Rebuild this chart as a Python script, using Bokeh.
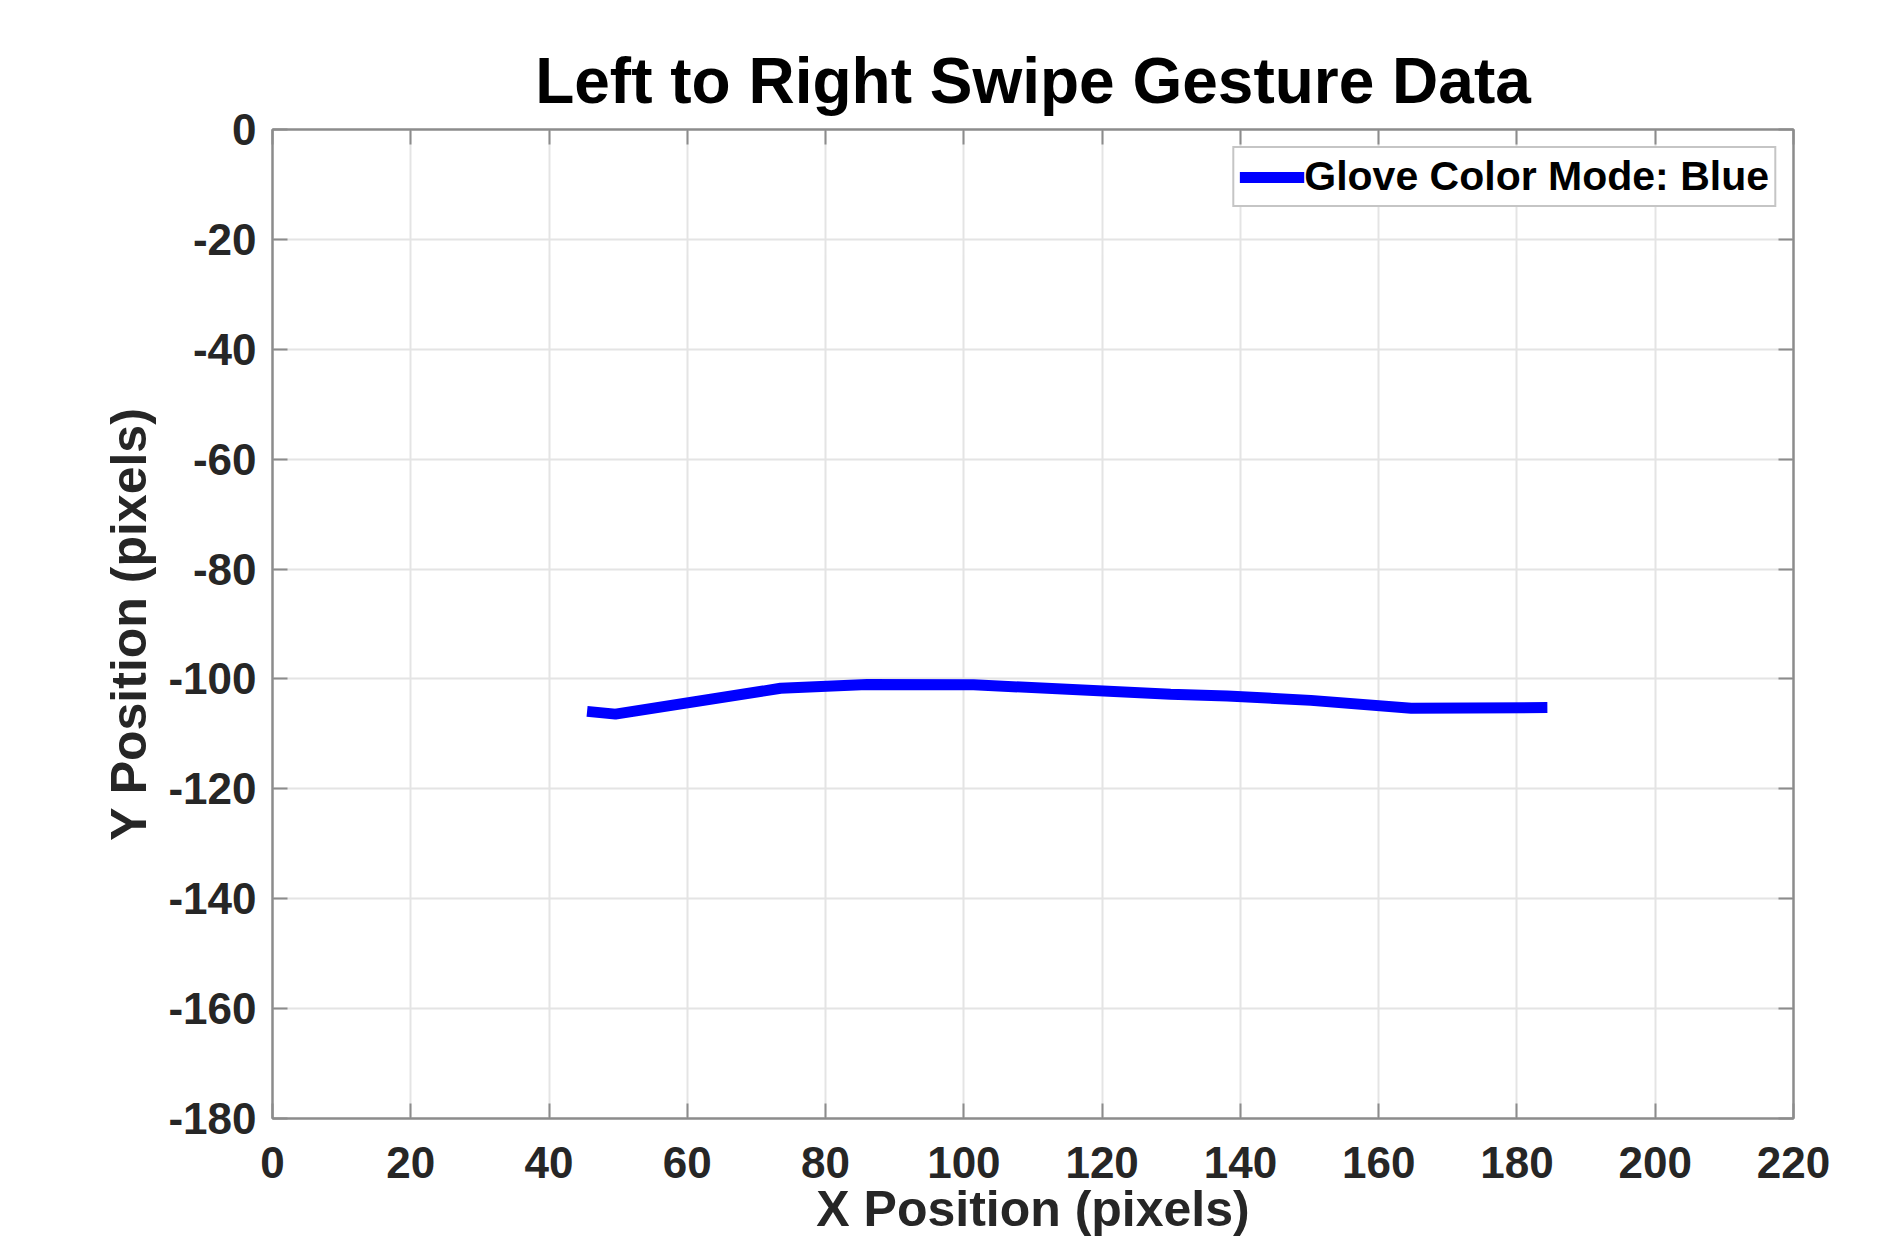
from bokeh.plotting import figure
from bokeh.models import (Range1d, SingleIntervalTicker, LinearAxis, Legend,
                          LegendItem, Title, PrintfTickFormatter,
                          CustomLabelingPolicy)
from bokeh.embed import file_html
from bokeh.resources import INLINE

# ---- data ----
x_pos = [45.5, 49.6, 73.5, 86.0, 101.4, 129.9, 138.1, 150.2, 164.7, 184.4]
y_pos = [-105.9, -106.4, -101.7, -101.0, -101.05, -102.8, -103.1, -103.9, -105.35, -105.2]
series_name = "Glove Color Mode: Blue"
title_text = "Left to Right Swipe Gesture Data"
x_label = "X Position (pixels)"
y_label = "Y Position (pixels)"
x_lim = (0, 220)
y_lim = (-180, 0)
tick_step = 20

FONT = "Liberation Sans"
AX_COLOR = "#8c8c8c"
TXT_COLOR = "#262626"

p = figure(width=1899, height=1239, output_backend="svg", toolbar_location=None,
           x_range=Range1d(*x_lim), y_range=Range1d(*y_lim),
           min_border_left=272, min_border_right=106,
           min_border_top=129, min_border_bottom=121,
           background_fill_color="white", border_fill_color="white")
p.title = None

p.outline_line_color = AX_COLOR
p.outline_line_width = 2

no_labels = CustomLabelingPolicy(code="""
    const all = [...indices]
    for (const i of all) { indices.unset(i) }
    return indices
""")

def style_axis(ax, labels=True):
    ax.ticker = SingleIntervalTicker(interval=tick_step)
    ax.axis_line_color = AX_COLOR
    ax.axis_line_width = 2
    ax.major_tick_line_color = AX_COLOR
    ax.major_tick_line_width = 2
    ax.major_tick_in = 15
    ax.major_tick_out = 0
    ax.minor_tick_line_color = None
    ax.major_label_text_font = FONT
    ax.major_label_text_font_style = "bold"
    ax.major_label_text_color = TXT_COLOR
    ax.formatter = PrintfTickFormatter(format="%d")
    if labels:
        ax.major_label_text_font_size = "44px"
    else:
        ax.major_label_text_font_size = "1px"
        ax.major_label_standoff = 0
        ax.major_label_policy = no_labels

for ax in p.xaxis:
    style_axis(ax)
    ax.major_label_standoff = 24
    ax.axis_label = x_label
    ax.axis_label_text_font = FONT
    ax.axis_label_text_font_style = "bold"
    ax.axis_label_text_font_size = "50px"
    ax.axis_label_text_color = TXT_COLOR
    ax.axis_label_standoff = 0
for ax in p.yaxis:
    style_axis(ax)
    ax.major_label_standoff = 12
    ax.axis_label = y_label
    ax.axis_label_text_font = FONT
    ax.axis_label_text_font_style = "bold"
    ax.axis_label_text_font_size = "50px"
    ax.axis_label_text_color = TXT_COLOR
    ax.axis_label_standoff = 8

top_ax = LinearAxis()
style_axis(top_ax, labels=False)
p.add_layout(top_ax, "above")
right_ax = LinearAxis()
style_axis(right_ax, labels=False)
p.add_layout(right_ax, "right")

p.xgrid.ticker = SingleIntervalTicker(interval=tick_step)
p.ygrid.ticker = SingleIntervalTicker(interval=tick_step)
for g in (p.xgrid[0], p.ygrid[0]):
    g.grid_line_color = "#e4e4e4"
    g.grid_line_width = 2

t = Title(text=title_text, align="center", text_font=FONT, text_font_style="bold",
          text_font_size="64px", text_color="black", standoff=10)
p.add_layout(t, "above")

r = p.line(x_pos, y_pos, line_color="#0000ff", line_width=11)

legend = Legend(items=[LegendItem(label=series_name, renderers=[r])],
                location="top_right", margin=17, padding=5, spacing=0,
                glyph_width=65, glyph_height=30, label_standoff=0,
                label_text_font=FONT, label_text_font_style="bold",
                label_text_font_size="41px", label_text_color="black",
                border_line_color=AX_COLOR, border_line_width=2,
                background_fill_color="white", background_fill_alpha=1.0)
p.add_layout(legend, "center")

open("out.html", "w").write(file_html(p, INLINE))
